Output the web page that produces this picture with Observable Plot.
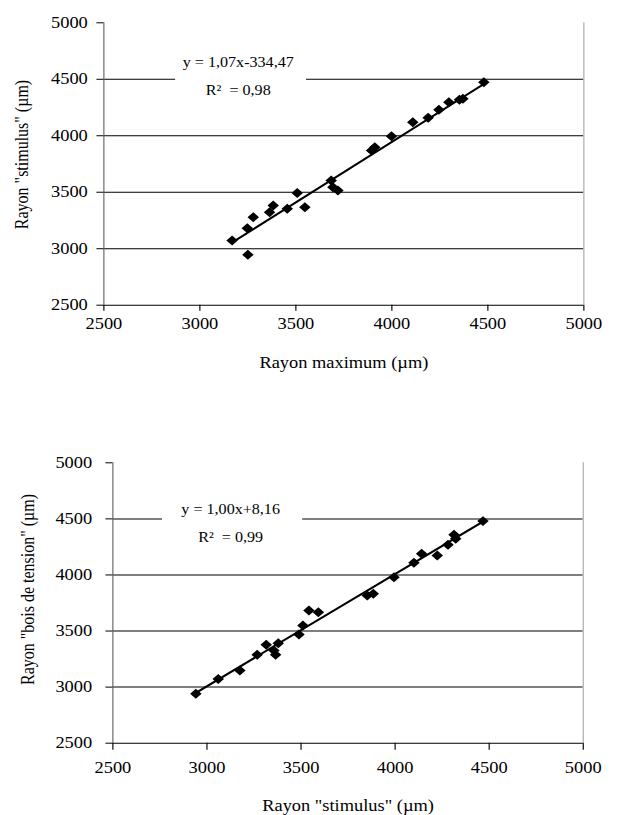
<!DOCTYPE html>
<html>
<head>
<meta charset="utf-8">
<script src="https://cdn.jsdelivr.net/npm/d3@7"></script>
<script src="https://cdn.jsdelivr.net/npm/@observablehq/plot@0.6"></script>
<style>
  html, body { margin: 0; padding: 0; background: #fff; }
  #wrap { position: relative; width: 618px; height: 815px; overflow: hidden; background: #fff; }
  #wrap svg { position: absolute; left: 0; transform-origin: 0 0; }
  #wrap svg, #wrap svg text { font-family: 'Liberation Serif', 'Times New Roman', Times, serif !important; }
</style>
</head>
<body>
<div id="wrap"></div>
<script>
// ---- data ----
const axisTicks = [2500, 3000, 3500, 4000, 4500, 5000];
const gridTicks = [3000, 3500, 4000, 4500];

// Chart 1: Rayon maximum vs Rayon "stimulus"
const topX = [3168, 3250, 3247, 3278, 3363, 3382, 3455, 3507, 3547, 3684, 3693, 3719, 3894, 3911, 3998, 4109, 4189, 4245, 4297, 4352, 4370, 4479];
const topY = [3073, 2946, 3182, 3279, 3323, 3382, 3353, 3494, 3368, 3604, 3545, 3515, 3869, 3899, 3996, 4120, 4159, 4230, 4297, 4318, 4327, 4474];
const topFit = [1.07, -334.47];
const topEq = ["y = 1,07x-334,47", "R²  = 0,98"];
const topXLabel = "Rayon maximum (µm)";
const topYLabel = "Rayon \"stimulus\" (µm)";

// Chart 2: Rayon "stimulus" vs Rayon "bois de tension"
const botX = [2941, 3060, 3175, 3267, 3315, 3356, 3365, 3379, 3489, 3510, 3542, 3592, 3852, 3884, 3994, 4100, 4141, 4224, 4281, 4313, 4322, 4467];
const botY = [2940, 3073, 3148, 3288, 3377, 3326, 3288, 3392, 3469, 3549, 3683, 3668, 3817, 3832, 3980, 4108, 4188, 4173, 4269, 4358, 4322, 4480];
const botFit = [1.00, 8.16];
const botEq = ["y = 1,00x+8,16", "R²  = 0,99"];
const botXLabel = "Rayon \"stimulus\" (µm)";
const botYLabel = "Rayon \"bois de tension\" (µm)";

// ---- drawing ----
const SX = 1.15;              // horizontal stretch of the original figure
const W = 618 / SX;
const FONT = "'Liberation Serif', 'Times New Roman', Times, serif";

function chart(o) {
  const pts = o.xs.map((x, i) => ({x, y: o.ys[i]}));
  const ext = d3.extent(o.xs);
  const fit = ext.map(x => ({x, y: o.fit[0] * x + o.fit[1]}));
  const eqRows = o.eq.map((t, i) => ({t, y: o.eqY[i]}));
  const svg = Plot.plot({
    width: W,
    height: o.height,
    marginLeft: o.ml, marginRight: o.mr, marginTop: o.mt, marginBottom: o.mb,
    style: {fontFamily: FONT, fontSize: "16px", color: "#000", background: "transparent", overflow: "visible"},
    x: {domain: [2500, 5000]},
    y: {domain: [2500, 5000]},
    marks: [
      Plot.ruleY(gridTicks, {stroke: "#000", strokeWidth: 1}),
      Plot.ruleY([2500], {stroke: "#000", strokeWidth: 1}),
      Plot.ruleX([2500], {stroke: "#666", strokeWidth: 1}),
      Plot.ruleX([5000], {stroke: "#aaa", strokeWidth: 1}),
      Plot.axisX({ticks: axisTicks, tickFormat: d => `${d}`, tickSize: o.xTickSize, tickPadding: o.xTickPad, fontSize: 16, label: null, stroke: "#000", fill: "#000"}),
      Plot.axisY({ticks: axisTicks, tickFormat: d => `${d}`, tickSize: o.yTickSize, tickPadding: o.yTickPad, fontSize: 16, label: null, stroke: "#000", fill: "#000"}),
      Plot.rect([0], {x1: () => o.box[0], x2: () => o.box[1], y1: () => o.box[2], y2: () => o.box[3], fill: "#fff"}),
      Plot.line(fit, {x: "x", y: "y", stroke: "#000", strokeWidth: 2}),
      Plot.dot(pts, {x: "x", y: "y", symbol: "diamond2", r: 4.5, fill: "#000", stroke: "none"}),
      Plot.text(eqRows, {x: () => o.eqX, y: "y", text: "t", fontSize: 14, fill: "#000", textAnchor: "middle", lineAnchor: "middle"}),
      Plot.text([o.xLabel], {frameAnchor: "bottom", dy: o.xLabelDy, text: d => d, fontSize: 16, fill: "#000", textAnchor: "middle", lineAnchor: "middle"}),
      Plot.text([o.yLabel], {frameAnchor: "left", rotate: -90, dx: o.yLabelDx, dy: o.yLabelDy, text: d => d, fontSize: 16, fill: "#000", textAnchor: "middle", lineAnchor: "middle"})
    ]
  });
  svg.style.top = o.top + "px";
  svg.style.transform = `scaleX(${SX})`;
  return svg;
}

const wrap = document.getElementById("wrap");

wrap.appendChild(chart({
  xs: topX, ys: topY, fit: topFit, eq: topEq, xLabel: topXLabel, yLabel: topYLabel,
  top: 0, height: 390,
  ml: 103.3 / SX, mr: W - 583.3 / SX, mt: 22.3, mb: 390 - 304.7,
  xTickSize: 6, xTickPad: 6, yTickSize: 6, yTickPad: 8,
  yLabelDx: 19.1 - 103.3 / SX, yLabelDy: -9.5, xLabelDy: 58,
  box: [2874, 3556, 4330, 4740], eqX: 3200, eqY: [4649, 4400]
}));

wrap.appendChild(chart({
  xs: botX, ys: botY, fit: botFit, eq: botEq, xLabel: botXLabel, yLabel: botYLabel,
  top: 440, height: 375,
  ml: 112.3 / SX, mr: W - 582.7 / SX, mt: 22.3, mb: 375 - 302.7,
  xTickSize: 7, xTickPad: 11, yTickSize: 6, yTickPad: 12,
  yLabelDx: 24.3 - 112.3 / SX, yLabelDy: -13.5, xLabelDy: 63,
  box: [2764, 3509, 4270, 4670], eqX: 3126, eqY: [4584, 4334]
}));
</script>
</body>
</html>
